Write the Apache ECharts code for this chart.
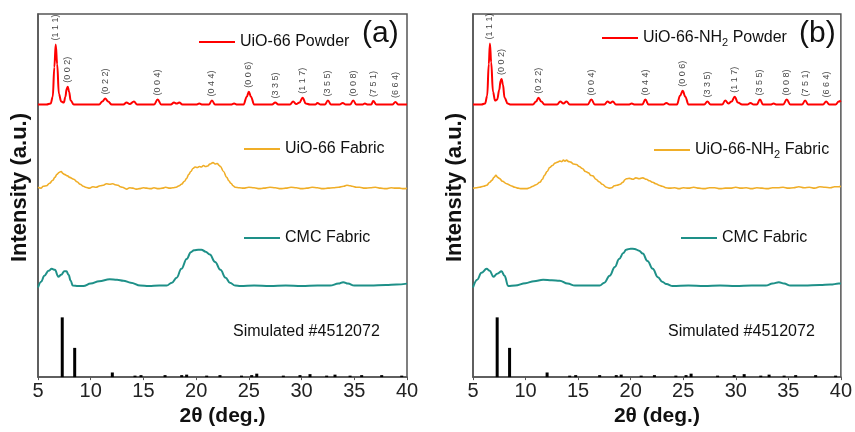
<!DOCTYPE html>
<html lang="en" style="height: 100%">
<head>
  <meta charset="utf-8">
</head>
<body style="height: 100%; margin: 0">
  <div id="container" style="width: 855px; height: 432px"></div>

  <script type="text/javascript" src="https://cdn.jsdelivr.net/npm/echarts@6/dist/echarts.min.js"></script>
  <script type="text/javascript">
    // ---- data (2theta, intensity in arbitrary units) ----
    var powderA = [[5.0,277],[5.8,277],[6.2,278],[6.4,285],[6.55,315],[6.68,338],[6.82,318],[6.98,288],[7.2,280],[7.45,279],[7.6,285],[7.72,293],[7.82,295],[7.95,290],[8.1,281],[8.4,277],[10.8,277],[11.1,280],[11.38,283],[11.65,280],[12.0,277],[13.1,277],[13.4,279],[13.7,277.5],[14.1,280],[14.4,277],[16.0,277],[16.35,282],[16.7,277],[17.6,277],[17.9,279],[18.15,278],[18.4,279],[18.7,277],[20.0,277],[20.3,278],[20.6,277],[21.2,277],[21.5,281],[21.8,277],[23.3,277],[23.6,278],[23.9,277],[24.5,277],[24.8,285],[25.0,290],[25.2,285],[25.5,277],[27.2,277],[27.5,279],[27.8,277],[28.9,277],[29.2,280],[29.5,277.5],[29.8,279],[30.1,284],[30.4,278],[30.8,277],[31.3,277],[31.5,278.5],[31.8,277],[32.2,277],[32.5,281],[32.8,277],[33.6,277],[33.9,278.5],[34.2,277],[34.6,277],[34.9,281],[35.2,277],[35.8,277],[36.0,278],[36.3,277],[36.6,277],[36.8,280.5],[37.1,277],[38.6,277],[38.9,279.5],[39.2,277],[40,277]];
    var fabricA = [[5.0,193],[5.3,192],[5.5,194],[5.8,194.5],[6.1,197],[6.4,200],[6.6,203],[6.8,206],[7.0,208],[7.2,209],[7.35,207],[7.5,206],[7.8,204.5],[8.0,203],[8.4,201],[8.7,198.5],[9.0,196],[9.3,194],[9.5,193],[9.9,192],[10.2,193.5],[10.5,193],[10.9,194.5],[11.2,195],[11.5,196.5],[11.8,196],[12.1,196.5],[12.3,195.5],[12.6,195],[12.8,193.5],[13.0,193],[13.4,191],[13.7,192.5],[14.0,192],[14.3,191],[14.6,191.5],[15.0,192.5],[15.3,192],[15.7,191.5],[16.0,192.5],[16.4,191.5],[16.8,192],[17.1,193],[17.5,192],[17.8,192.5],[18.1,193],[18.4,194.5],[18.6,196],[18.9,199],[19.1,202],[19.3,206],[19.5,209],[19.7,212],[19.9,213.5],[20.1,213],[20.3,214],[20.5,213.5],[20.7,215],[20.9,214],[21.1,214.5],[21.3,216.5],[21.6,218],[21.8,216.5],[22.0,217],[22.2,215],[22.3,214],[22.6,209],[22.9,203],[23.1,199.5],[23.3,197],[23.5,194.5],[23.7,193],[24.1,192.5],[24.5,192],[25.0,193],[25.5,192.5],[26.0,191.5],[26.4,192],[27.0,193],[27.5,192.5],[28.0,191.5],[28.5,192],[29.0,193],[29.5,192.5],[30.0,191.5],[30.5,192],[31.0,193],[31.5,192.5],[32.0,191.5],[32.5,192],[33.0,192.5],[33.5,193],[34.0,194],[34.3,195],[34.6,194.5],[34.8,194],[35.2,193],[35.5,193],[36.0,192],[36.5,192.5],[37.0,193],[37.5,192],[38.0,191.5],[38.5,192.5],[38.9,192],[39.3,192],[39.7,191.5],[40,192]];
    var cmcA = [[5.0,91],[5.3,97],[5.6,103],[6.0,108],[6.3,110],[6.6,109],[6.93,102],[7.2,104],[7.5,107.5],[7.7,107.5],[7.9,104],[8.1,98],[8.3,93],[8.8,92.5],[9.3,92.5],[10.0,95],[10.8,97.5],[11.8,99.5],[12.5,99],[13.1,98],[13.8,96],[14.7,93],[15.5,92.5],[16.5,93],[17.2,93],[17.7,96],[18.15,101],[18.6,110],[19.1,120],[19.5,127],[19.8,129],[20.2,129.5],[20.5,129.5],[20.9,127.5],[21.3,124.5],[21.8,117],[22.3,109],[22.8,101],[23.2,96],[23.7,93],[24.2,92.5],[25.5,93],[27,92.5],[28.5,93],[30,92.5],[31.5,93],[32.7,93],[33.5,95],[33.95,96.5],[34.4,95],[35,93],[36.5,93],[38,93.5],[39,94],[40,95]];

    var powderB = [[5,277],[5.8,277],[6.15,278],[6.35,286],[6.5,318],[6.61,339],[6.73,320],[6.9,290],[7.1,281],[7.3,282],[7.5,292],[7.62,301],[7.72,303],[7.85,297],[8.0,284],[8.3,278],[8.6,277],[10.7,277],[11.0,280],[11.23,284],[11.5,280],[11.8,277],[13.0,277],[13.3,280],[13.6,278],[13.9,280],[14.2,277],[15.9,277],[16.26,282],[16.6,277],[17.5,277],[17.8,280],[18.05,278.5],[18.3,280],[18.6,277],[19.8,277],[20.1,278],[20.4,277],[21.1,277],[21.4,282],[21.7,277],[23.1,277],[23.4,278.5],[23.7,277],[24.4,277],[24.7,286],[24.95,291],[25.2,285],[25.5,277],[27.0,277],[27.3,280],[27.6,277],[28.7,277],[29.0,281],[29.3,278],[29.6,280],[29.9,285],[30.2,279],[30.6,277],[31.1,277],[31.4,278.5],[31.7,277],[32.0,277],[32.3,282],[32.6,277],[33.3,277],[33.6,278],[33.9,277],[34.5,277],[34.85,282],[35.2,277],[36.3,277],[36.6,281],[36.9,277],[38.3,277],[38.6,280],[38.9,277],[39.5,277],[39.8,280],[40,281]];
    var fabricB = [[5.0,192],[5.3,192.5],[5.6,193],[6.0,194],[6.3,195],[6.6,198],[6.8,200],[7.0,203],[7.18,205],[7.35,203],[7.5,202],[7.8,199],[8.2,196.5],[8.6,194.5],[9.0,193],[9.3,192],[9.6,191.5],[10.1,191.5],[10.4,192.5],[10.7,194],[11.0,195.5],[11.36,198],[11.6,201],[11.8,205],[12.05,209],[12.3,213],[12.55,215],[12.8,217.5],[13.05,218.5],[13.25,219.5],[13.45,219],[13.6,220.5],[13.75,219.5],[13.9,220.5],[14.1,219],[14.3,218.5],[14.55,216.5],[14.84,216],[15.1,214],[15.4,212],[15.7,209],[16.0,207.5],[16.2,205],[16.4,204.5],[16.7,201],[17.0,198.5],[17.3,196],[17.7,193],[17.95,192],[18.2,192.5],[18.45,194.5],[18.7,195],[19.0,196],[19.26,198],[19.45,200.5],[19.6,201.5],[19.9,202],[20.2,201],[20.5,202.5],[20.8,201.5],[21.15,202.5],[21.5,201],[21.8,199.5],[22.1,198],[22.4,196.5],[22.7,195],[23.0,194],[23.35,192.5],[23.7,192],[24.2,192.5],[24.6,191.5],[25,192.5],[25.5,192],[26.0,193],[26.5,192],[27.0,191.5],[27.5,192.5],[28,192.5],[28.5,191.5],[29.0,192],[29.5,192],[30.0,193],[30.5,192],[31,192.5],[31.5,191.5],[32.0,192.5],[32.5,192],[33.0,191.5],[33.5,192.5],[34,192.5],[34.5,193],[35.0,192],[35.5,192.5],[36.0,193.5],[36.5,192.5],[37,193],[37.5,192],[38.0,193.5],[38.5,193],[39.0,192.5],[39.4,193.5],[39.8,193.5],[40,194]];
    var cmcB = [[5.0,91],[5.4,99],[5.8,106],[6.3,110],[6.6,108],[6.93,102],[7.3,105],[7.72,107.5],[8.0,103],[8.35,92.5],[9.0,93],[10.0,95.5],[10.8,97.5],[11.67,99],[12.5,98.5],[13.25,98],[14.0,95],[14.7,93],[16.0,93],[17.05,93],[17.5,96],[18.0,103],[18.5,112],[18.9,120],[19.3,126],[19.57,129.5],[20.0,130.5],[20.37,130.3],[20.8,128.5],[21.15,125.5],[21.6,118],[22.1,110],[22.6,101.5],[23.0,97],[23.4,94.5],[24.0,92.5],[25.5,93],[27,92.5],[28.5,93],[30,92.5],[31.5,93],[32.85,93],[33.5,95],[34.1,96.5],[34.6,95],[35.2,93],[36.5,93],[38,93.5],[39,94],[39.8,95],[40,95]];

    // simulated pattern (stick positions / heights)
    var simX = [7.3, 8.48, 12.05, 14.2, 14.77, 17.05, 18.63, 19.1, 21.0, 22.26, 24.3, 25.27, 25.75, 28.27, 29.85, 30.8, 32.38, 33.17, 34.6, 35.7, 37.6, 39.5];
    var simY = [60.7, 29.7, 4.7, 1.5, 2, 2, 2, 2.5, 1.5, 2, 1.5, 2, 3.5, 1.5, 2, 3, 1.5, 2.5, 1.5, 2, 2, 1.5];

    // indexed reflections: name, 2theta, peak top
    var hkl = ['(1 1 1)', '(0 0 2)', '(0 2 2)', '(0 0 4)', '(0 4 4)', '(0 0 6)', '(3 3 5)', '(1 1 7)', '(3 5 5)', '(0 0 8)', '(7 5 1)', '(6 6 4)'];
    var hklXA = [6.68, 7.82, 11.38, 16.35, 21.5, 25.0, 27.5, 30.1, 32.5, 34.9, 36.8, 38.9];
    var hklYA = [338, 295, 283, 282, 281, 290, 279, 284, 281, 281, 280.5, 279.5];
    var hklXB = [6.61, 7.72, 11.23, 16.26, 21.4, 24.95, 27.3, 29.9, 32.3, 34.85, 36.6, 38.6];
    var hklYB = [339, 303, 284, 282, 282, 291, 280, 285, 282, 282, 281, 280];

    var xTicks = { min: 5, max: 40, interval: 5 };

    var RED = '#ff0000', GOLD = '#f0ae28', TEAL = '#1e9088';
    var FONT = 'Liberation Sans';

    var dom = document.getElementById('container');
    var myChart = echarts.init(dom, null, { renderer: 'canvas' });

    function zip(xs, ys) {
      return xs.map(function (x, i) { return [x, ys[i]]; });
    }
    function hklData(xs, ys) {
      return xs.map(function (x, i) { return { value: [x, ys[i]], name: hkl[i] }; });
    }

    function lineSeries(name, data, color, width, idx) {
      return {
        type: 'line', name: name, data: data,
        xAxisIndex: idx, yAxisIndex: idx,
        symbol: 'none', smooth: 0.4, smoothMonotone: 'x',
        lineStyle: { color: color, width: width },
        itemStyle: { color: color },
        silent: true, z: 3
      };
    }
    function labelSeries(data, idx) {
      return {
        type: 'scatter', data: data, xAxisIndex: idx, yAxisIndex: idx,
        symbolSize: 0, silent: true,
        label: {
          show: true, position: 'top', distance: 4, rotate: 90,
          align: 'left', verticalAlign: 'middle',
          formatter: '{b}', fontSize: 9, fontFamily: FONT, color: '#111'
        }
      };
    }
    function simSeries(idx) {
      return {
        type: 'bar', name: 'Simulated', data: zip(simX, simY),
        xAxisIndex: idx, yAxisIndex: idx,
        barWidth: 3, itemStyle: { color: '#000' }, silent: true
      };
    }
    function legendAt(name, left, top) {
      return {
        data: [name], left: left, top: top, padding: 0,
        itemWidth: 36, itemHeight: 14, itemGap: 5,
        selectedMode: false,
        itemStyle: { opacity: 0 },
        lineStyle: { width: 2 },
        formatter: function (n) { return n.replace('NH2', 'NH{s|2}'); },
        textStyle: {
          fontSize: 16, fontFamily: FONT, color: '#111',
          rich: { s: { fontSize: 11, fontFamily: FONT, color: '#111', padding: [10, 0, 0, 0] } }
        }
      };
    }
    function xAxis(idx) {
      return {
        type: 'value', gridIndex: idx, min: xTicks.min, max: xTicks.max, interval: xTicks.interval,
        name: '2θ (deg.)', nameLocation: 'middle', nameGap: 28,
        nameTextStyle: { fontSize: 21, fontWeight: 'bold', fontFamily: FONT, color: '#111' },
        axisLine: { lineStyle: { color: '#555', width: 1.5 } },
        axisTick: { show: true, length: 3, lineStyle: { color: '#555' } },
        axisLabel: { fontSize: 20, fontFamily: FONT, color: '#222', margin: 4 },
        splitLine: { show: false }
      };
    }
    function yAxis(idx) {
      return {
        type: 'value', gridIndex: idx, min: 0, max: 369,
        name: 'Intensity (a.u.)', nameLocation: 'middle', nameGap: 7,
        nameTextStyle: { fontSize: 22, fontWeight: 'bold', fontFamily: FONT, color: '#111', padding: [0, 0, 0, 16] },
        axisLine: { show: true, lineStyle: { color: '#555', width: 1.5 } },
        axisTick: { show: false }, axisLabel: { show: false }, splitLine: { show: false }
      };
    }

    var option = {
      backgroundColor: '#fff',
      animation: false,
      title: [
        { text: '(a)', left: 362, top: 19, padding: 0, textStyle: { fontSize: 30, fontWeight: 'normal', fontFamily: FONT, color: '#111' } },
        { text: '(b)', left: 799, top: 19, padding: 0, textStyle: { fontSize: 30, fontWeight: 'normal', fontFamily: FONT, color: '#111' } },
        { text: 'Simulated #4512072', left: 233, top: 324, padding: 0, textStyle: { fontSize: 16, fontWeight: 'normal', fontFamily: FONT, color: '#111' } },
        { text: 'Simulated #4512072', left: 668, top: 324, padding: 0, textStyle: { fontSize: 16, fontWeight: 'normal', fontFamily: FONT, color: '#111' } }
      ],
      legend: [
        legendAt('UiO-66 Powder', 198, 34),
        legendAt('UiO-66 Fabric', 243, 141),
        legendAt('CMC Fabric', 243, 230),
        legendAt('UiO-66-NH2 Powder', 601, 30),
        legendAt('UiO-66-NH2 Fabric', 653, 142),
        legendAt('CMC Fabric', 680, 230)
      ],
      grid: [
        { left: 38, width: 369, top: 14, height: 369, show: true, borderColor: '#555', borderWidth: 1.5, backgroundColor: 'transparent' },
        { left: 473, width: 369, top: 14, height: 369, show: true, borderColor: '#555', borderWidth: 1.5, backgroundColor: 'transparent' }
      ],
      xAxis: [xAxis(0), xAxis(1)],
      yAxis: [yAxis(0), yAxis(1)],
      series: [
        lineSeries('UiO-66 Powder', powderA, RED, 2, 0),
        lineSeries('UiO-66 Fabric', fabricA, GOLD, 1.6, 0),
        lineSeries('CMC Fabric', cmcA, TEAL, 2, 0),
        labelSeries(hklData(hklXA, hklYA), 0),
        simSeries(0),
        lineSeries('UiO-66-NH2 Powder', powderB, RED, 2, 1),
        lineSeries('UiO-66-NH2 Fabric', fabricB, GOLD, 1.6, 1),
        lineSeries('CMC Fabric', cmcB, TEAL, 2, 1),
        labelSeries(hklData(hklXB, hklYB), 1),
        simSeries(1)
      ]
    };

    myChart.setOption(option);
    window.addEventListener('resize', myChart.resize);
  </script>
</body>
</html>
